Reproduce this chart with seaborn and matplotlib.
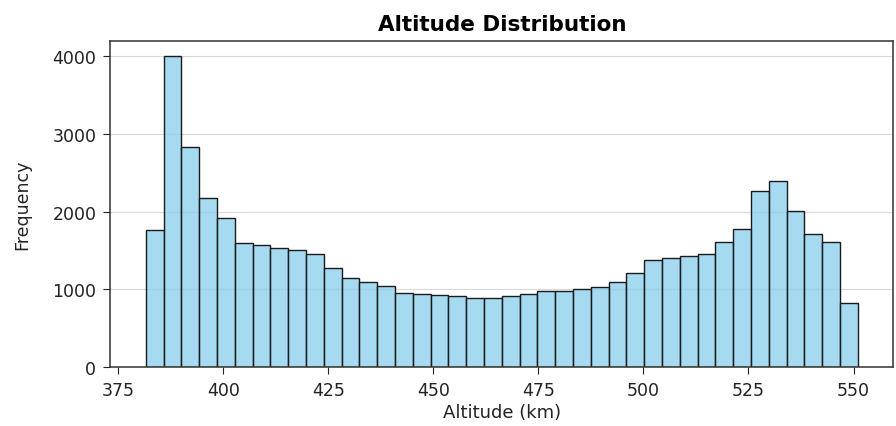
import numpy as np
import pandas as pd
import matplotlib
matplotlib.use("Agg")
import matplotlib.pyplot as plt
from matplotlib.ticker import MultipleLocator
import seaborn as sns

# Histogram bins: 40 equal bins between these limits
alt_min = 381.6
alt_max = 551.0
n_bins = 40

# Frequency per bin, left to right
counts = [
    1760, 4000, 2830, 2180, 1925, 1600, 1570, 1530, 1505, 1450,
    1280, 1150, 1095, 1045, 960, 945, 928, 915, 895, 893,
    915, 945, 980, 982, 1000, 1030, 1100, 1215, 1375, 1405,
    1435, 1452, 1610, 1775, 2265, 2390, 2010, 1710, 1610, 820,
]

bin_edges = np.linspace(alt_min, alt_max, n_bins + 1)
bin_centers = (bin_edges[:-1] + bin_edges[1:]) / 2
df = pd.DataFrame({"Altitude": bin_centers, "Frequency": counts})

sns.set_style("ticks")
plt.rcParams["font.family"] = ["DejaVu Sans"]
plt.rcParams["text.color"] = "black"
plt.rcParams["axes.labelcolor"] = "#222222"
plt.rcParams["xtick.color"] = "#222222"
plt.rcParams["ytick.color"] = "#222222"

fig, ax = plt.subplots(figsize=(8.96, 4.27), dpi=100)
sns.histplot(data=df, x="Altitude", weights="Frequency", bins=list(bin_edges),
             color="skyblue", edgecolor="#1a1a1a", linewidth=1, alpha=0.75, ax=ax)

ax.set_title("Altitude Distribution", fontsize=15.5, fontweight="bold", pad=8)
ax.set_xlabel("Altitude (km)", fontsize=13, labelpad=3)
ax.set_ylabel("Frequency", fontsize=12.5, labelpad=15)
ax.yaxis.set_major_locator(MultipleLocator(1000))
ax.tick_params(labelsize=12.5, length=5, pad=5)
ax.grid(axis="y", color="#d8d8d8", linewidth=0.8)
ax.set_axisbelow(True)
for s in ax.spines.values():
    s.set_visible(True)
    s.set_color("#333333")
    s.set_linewidth(1.1)

fig.subplots_adjust(left=0.123, right=0.997, top=0.902, bottom=0.138)
fig.savefig("out.png", dpi=100)
